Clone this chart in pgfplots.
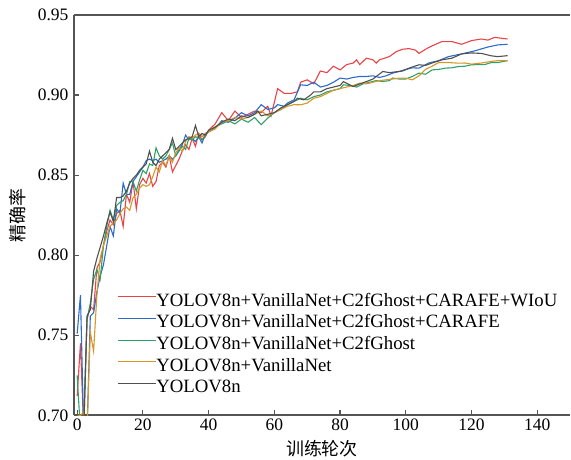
\documentclass[border=0pt]{standalone}
\usepackage{fontspec}
\setmainfont{Liberation Serif}
\newfontfamily\cjk{Noto Sans CJK SC}
\usepackage{pgfplots}
\pgfplotsset{compat=1.18}
\definecolor{axc}{RGB}{85,85,85}
\definecolor{cR}{RGB}{232,68,72}
\definecolor{cB}{RGB}{42,108,200}
\definecolor{cG}{RGB}{46,160,104}
\definecolor{cO}{RGB}{214,150,40}
\definecolor{cK}{RGB}{80,80,80}
\begin{document}
\begin{tikzpicture}
\begin{axis}[
 scale only axis, width=497pt, height=401pt,
 xmin=-1, xmax=150, ymin=0.70, ymax=0.95,
 axis x line*=bottom, axis y line*=left,
 axis line style={-, draw=axc, line width=1.8pt},
 xtick={0,20,40,60,80,100,120,140},
 ytick={0.70,0.75,0.80,0.85,0.90,0.95},
 tick align=inside, major tick length=5pt,
 tick style={draw=axc, line width=1.2pt},
 yticklabel style={xshift=-2pt, /pgf/number format/.cd, fixed, fixed zerofill, precision=2},
 /pgf/number format/assume math mode=true,
 ticklabel style={font=\fontsize{17.5}{20}\selectfont\rmfamily},
 xlabel={训练轮次}, ylabel={精确率},
 xlabel style={font=\fontsize{18}{20}\selectfont\cjk, at={(rel axis cs:0.5,0)}, anchor=center, yshift=-33pt},
 ylabel style={font=\fontsize{18}{20}\selectfont\cjk, at={(rel axis cs:0,0.5)}, anchor=center, yshift=56pt},
 legend style={at={(rel axis cs:0.087,0.305)}, anchor=north west, draw=none, fill=none,
   inner sep=0pt, row sep=4.6pt, font=\fontsize{18.8}{22}\selectfont\rmfamily,
   nodes={inner xsep=0pt, inner ysep=0pt, text height=13pt, text depth=4pt}},
 legend cell align=left,
 legend image code/.code={\draw[#1, line width=1.1pt] (0pt,5pt) -- (38pt,5pt);},
 every axis plot/.append style={line width=1.1pt},
]
\addplot[cR] coordinates {
(0,0.712)(1,0.745)(2,0.690)(3,0.760)(4,0.768)(5,0.766)(6,0.792)(7,0.796)(8,0.806)(9,0.815)
(10,0.822)(11,0.819)(12,0.826)(13,0.828)(14,0.818)(15,0.838)(16,0.833)(17,0.846)(18,0.829)(19,0.844)
(20,0.848)(21,0.845)(22,0.851)(23,0.843)(24,0.846)(25,0.856)(26,0.858)(27,0.855)(28,0.862)(29,0.852)
(30,0.856)(31,0.860)(32,0.865)(33,0.869)(34,0.866)(35,0.873)(36,0.868)(37,0.876)(38,0.872)(39,0.874)
(40,0.878)(42,0.882)(44,0.889)(46,0.884)(48,0.890)(50,0.886)(52,0.888)(54,0.890)(56,0.889)(58,0.893)
(59,0.887)(61,0.904)(63,0.901)(65,0.901)(67,0.902)(68,0.908)(70,0.9095)(72,0.907)(73,0.911)(74,0.915)
(76,0.914)(78,0.918)(80,0.9157)(82,0.919)(84,0.920)(85,0.922)(86,0.919)(88,0.923)(90,0.922)(91,0.920)
(92,0.922)(95,0.924)(97,0.927)(99,0.9286)(101,0.929)(103,0.928)(104,0.926)(106,0.9286)(108,0.9307)(111,0.9334)
(114,0.9334)(117,0.9317)(120,0.934)(123,0.935)(125,0.9343)(127,0.936)(129,0.9355)(131,0.935)
};
\addlegendentry{YOLOV8n+VanillaNet+C2fGhost+CARAFE+WIoU}
\addplot[cB] coordinates {
(0,0.751)(1,0.775)(2,0.690)(3,0.690)(4,0.762)(5,0.764)(6,0.777)(7,0.787)(8,0.794)(9,0.806)
(10,0.818)(11,0.812)(12,0.829)(13,0.826)(14,0.845)(15,0.838)(16,0.838)(17,0.846)(18,0.849)(19,0.852)
(20,0.855)(21,0.859)(22,0.860)(23,0.859)(24,0.860)(25,0.858)(26,0.859)(27,0.860)(28,0.862)(29,0.860)
(30,0.862)(31,0.866)(32,0.869)(33,0.875)(34,0.872)(35,0.873)(36,0.871)(37,0.874)(38,0.870)(39,0.876)
(40,0.877)(42,0.879)(44,0.884)(46,0.883)(48,0.8856)(50,0.889)(52,0.887)(54,0.889)(56,0.894)(58,0.891)
(60,0.892)(61,0.894)(63,0.893)(64,0.895)(66,0.897)(68,0.9064)(70,0.906)(72,0.908)(74,0.905)(76,0.906)
(78,0.908)(80,0.9106)(82,0.910)(84,0.911)(86,0.9116)(88,0.9116)(90,0.912)(92,0.911)(94,0.912)(96,0.9137)
(98,0.9147)(100,0.916)(102,0.917)(104,0.9168)(107,0.920)(110,0.9215)(113,0.924)(117,0.9257)(121,0.9276)(125,0.930)
(128,0.9313)(131,0.9317)
};
\addlegendentry{YOLOV8n+VanillaNet+C2fGhost+CARAFE}
\addplot[cG] coordinates {
(0,0.725)(1,0.690)(2,0.700)(3,0.760)(4,0.770)(5,0.785)(6,0.791)(7,0.785)(8,0.806)(9,0.818)
(10,0.828)(11,0.822)(12,0.831)(13,0.833)(14,0.834)(15,0.838)(16,0.846)(17,0.846)(18,0.840)(19,0.847)
(20,0.853)(21,0.851)(22,0.857)(23,0.856)(24,0.867)(25,0.862)(26,0.860)(27,0.862)(28,0.866)(29,0.870)
(30,0.862)(31,0.865)(32,0.868)(33,0.866)(34,0.873)(35,0.872)(36,0.874)(37,0.873)(38,0.872)(39,0.875)
(40,0.877)(42,0.880)(44,0.882)(46,0.884)(48,0.882)(50,0.885)(52,0.883)(54,0.886)(56,0.8815)(58,0.8856)
(60,0.889)(62,0.891)(64,0.894)(66,0.896)(68,0.898)(70,0.897)(72,0.899)(74,0.900)(76,0.902)(78,0.903)
(80,0.904)(81,0.9064)(83,0.906)(85,0.905)(87,0.907)(89,0.908)(91,0.909)(93,0.9085)(95,0.909)(96,0.9106)
(98,0.910)(100,0.910)(102,0.9116)(104,0.9137)(106,0.913)(108,0.9157)(110,0.916)(112,0.9168)(114,0.917)(116,0.9178)
(118,0.918)(120,0.9189)(122,0.919)(124,0.919)(126,0.9203)(128,0.9203)(131,0.9215)
};
\addlegendentry{YOLOV8n+VanillaNet+C2fGhost}
\addplot[cO] coordinates {
(0,0.700)(1,0.700)(2,0.702)(3,0.690)(4,0.752)(5,0.740)(6,0.775)(7,0.798)(8,0.806)(9,0.812)
(10,0.818)(11,0.820)(12,0.822)(13,0.826)(14,0.829)(15,0.830)(16,0.828)(17,0.836)(18,0.838)(19,0.842)
(20,0.844)(21,0.843)(22,0.844)(23,0.849)(24,0.855)(25,0.852)(26,0.859)(27,0.856)(28,0.862)(29,0.858)
(30,0.864)(31,0.867)(32,0.865)(33,0.871)(34,0.874)(35,0.873)(36,0.875)(37,0.876)(38,0.874)(39,0.876)
(40,0.877)(42,0.879)(44,0.883)(46,0.884)(48,0.886)(50,0.885)(52,0.886)(54,0.888)(56,0.890)(58,0.887)
(60,0.889)(62,0.891)(64,0.893)(66,0.894)(68,0.8939)(70,0.895)(72,0.898)(74,0.899)(76,0.901)(78,0.903)
(80,0.904)(82,0.905)(84,0.906)(86,0.9074)(88,0.907)(90,0.908)(92,0.909)(94,0.9095)(96,0.910)(98,0.9106)
(100,0.9106)(102,0.9095)(104,0.912)(106,0.916)(108,0.918)(110,0.9203)(113,0.9203)(116,0.9199)(118,0.920)(120,0.9193)
(123,0.920)(126,0.921)(128,0.9215)(131,0.9215)
};
\addlegendentry{YOLOV8n+VanillaNet}
\addplot[cK] coordinates {
(0,0.700)(1,0.690)(2,0.690)(3,0.762)(4,0.766)(5,0.790)(6,0.798)(7,0.805)(8,0.812)(9,0.820)
(10,0.827)(11,0.821)(12,0.836)(13,0.836)(14,0.837)(15,0.840)(16,0.845)(17,0.848)(18,0.850)(19,0.853)
(20,0.855)(21,0.857)(22,0.865)(23,0.858)(24,0.856)(25,0.860)(26,0.862)(27,0.864)(28,0.866)(29,0.873)
(30,0.866)(31,0.868)(32,0.870)(33,0.872)(34,0.873)(35,0.874)(36,0.881)(37,0.874)(38,0.876)(39,0.875)
(40,0.878)(42,0.880)(44,0.883)(46,0.885)(48,0.884)(50,0.887)(52,0.886)(54,0.888)(55,0.890)(56,0.887)
(58,0.888)(60,0.889)(62,0.892)(64,0.894)(66,0.896)(67,0.898)(69,0.897)(71,0.900)(72,0.902)(74,0.902)
(76,0.904)(78,0.905)(80,0.906)(81,0.9084)(84,0.9053)(86,0.907)(88,0.9084)(90,0.910)(93,0.9147)(95,0.914)
(97,0.9145)(99,0.915)(101,0.9168)(104,0.9189)(106,0.9185)(108,0.920)(111,0.922)(114,0.923)(117,0.9257)(120,0.9263)
(123,0.926)(126,0.9245)(128,0.924)(131,0.9246)
};
\addlegendentry{YOLOV8n}
\draw[axc, line width=1.8pt] (rel axis cs:0,1) -- (rel axis cs:1,1);
\coordinate (tl) at (rel axis cs:0,1);
\coordinate (br) at (rel axis cs:1,0);
\end{axis}
\path ([shift={(-74pt,15pt)}]tl) rectangle ([shift={(0pt,-43pt)}]br);
\end{tikzpicture}
\end{document}
